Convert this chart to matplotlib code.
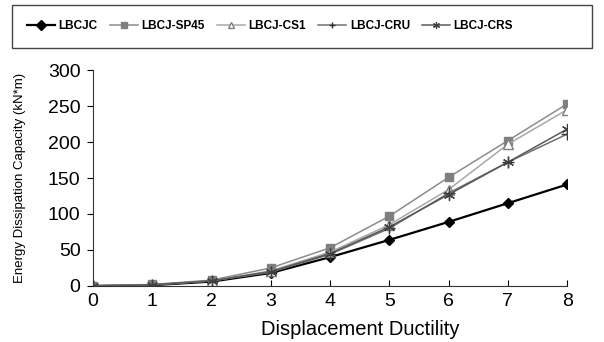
import matplotlib
matplotlib.use("Agg")
import matplotlib.pyplot as plt
from matplotlib.patches import Rectangle

# displacement ductility steps and dissipated energy (kN*m) per specimen
ductility = [0, 1, 2, 3, 4, 5, 6, 7, 8]
lbcjc = [0, 1, 6, 18, 40, 64, 89, 115, 141]
lbcj_sp45 = [0, 2, 8, 25, 53, 97, 151, 202, 253]
lbcj_cs1 = [0, 1.5, 7, 21, 47, 85, 134, 197, 245]
lbcj_cru = [0, 1.5, 7, 19, 44, 80, 129, 172, 211]
lbcj_crs = [0, 1.5, 7, 20, 45, 82, 127, 172, 218]

yticks = [0, 50, 100, 150, 200, 250, 300]

plt.rcParams['font.family'] = ['Liberation Sans', 'DejaVu Sans']

fig = plt.figure(figsize=(6.04, 3.42), dpi=100)
ax = fig.add_axes([0.154, 0.164, 0.785, 0.631])

series = [
    ("LBCJC", lbcjc, dict(color="black", lw=1.6, marker="D", ms=5, mfc="black", mec="black")),
    ("LBCJ-SP45", lbcj_sp45, dict(color="#8c8c8c", lw=1.1, marker="s", ms=6, mfc="#7f7f7f", mec="#7f7f7f")),
    ("LBCJ-CS1", lbcj_cs1, dict(color="#a8a8a8", lw=1.1, marker="^", ms=7, mfc="white", mec="#808080")),
    ("LBCJ-CRU", lbcj_cru, dict(color="#707070", lw=1.1, marker="+", ms=9, mec="#303030", mew=1.0)),
    ("LBCJ-CRS", lbcj_crs, dict(color="#5a5a5a", lw=1.1, marker=(6, 2, 0), ms=8, mec="#404040", mew=0.9)),
]
for name, vals, style in series:
    ax.plot(ductility, vals, label=name, **style)

ax.set_xlim(0, 8)
ax.set_ylim(0, 300)
ax.set_xticks(ductility)
ax.set_yticks(yticks)
for side in ("top", "right"):
    ax.spines[side].set_visible(False)
ax.spines["left"].set_color("#333333")
ax.spines["bottom"].set_color("#333333")
ax.tick_params(axis="x", direction="in", length=4, labelsize=14, pad=5)
ax.tick_params(axis="y", direction="out", length=4, labelsize=14, pad=5)

ax.set_xlabel("Displacement Ductility", fontsize=14.5)
ax.xaxis.set_label_coords(0.563, -0.16)
ax.set_ylabel("Energy Dissipation Capacity (kN*m)", fontsize=9.5)
ax.yaxis.set_label_coords(-0.142, 0.5)

# legend in a wide box across the top
fig.patches.append(Rectangle((12 / 604, 1 - 48 / 342), 580 / 604, 43 / 342,
                             transform=fig.transFigure, fill=False,
                             edgecolor="#444444", lw=1.0))
leg = fig.legend(loc="center left", bbox_to_anchor=(22 / 604, 1 - 26 / 342),
                 ncol=5, frameon=False, handlelength=2.4, handletextpad=0.3,
                 columnspacing=1.0, borderaxespad=0,
                 prop={"size": 8.5, "weight": "bold"})
for h in leg.legend_handles:
    h.set_markersize(5)

fig.savefig("out.png", dpi=100)
